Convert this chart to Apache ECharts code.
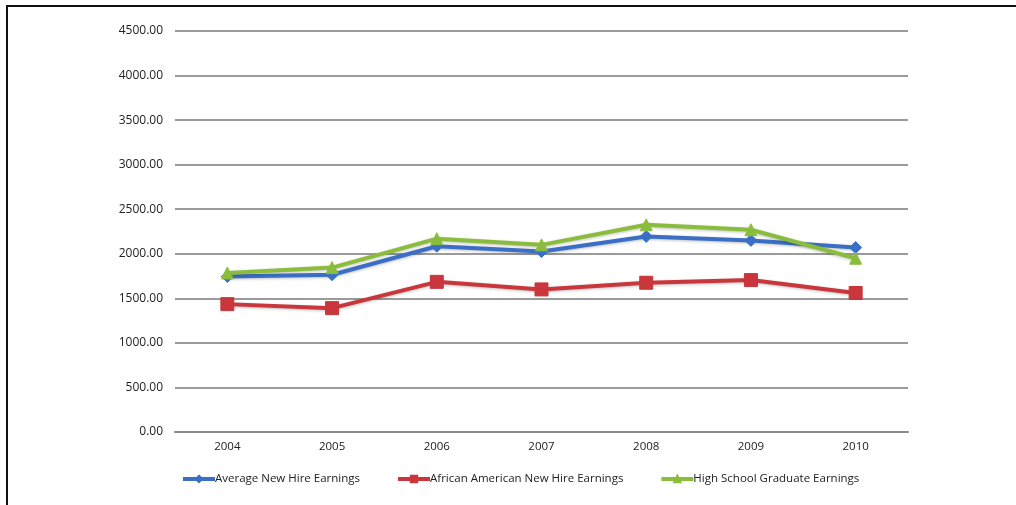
<!DOCTYPE html>
<html>
<head>
<meta charset="utf-8">
<script src="https://cdn.jsdelivr.net/npm/echarts@6/dist/echarts.min.js"></script>
<style>
  html, body { margin: 0; padding: 0; background: #fff; }
  #frame { position: absolute; left: 6px; top: 5px; width: 1010px; height: 500px;
           border-top: 2px solid #111; border-left: 2px solid #111; box-sizing: border-box; }
  #chart { position: absolute; left: 0; top: 0; width: 1016px; height: 505px; }
</style>
</head>
<body>
<div id="frame"></div>
<div id="chart"></div>
<script>
const years = ['2004', '2005', '2006', '2007', '2008', '2009', '2010'];
const averageNewHire = [1745, 1765, 2085, 2025, 2195, 2150, 2070];
const africanAmericanNewHire = [1435, 1390, 1685, 1600, 1675, 1705, 1560];
const highSchoolGraduate = [1785, 1845, 2170, 2100, 2325, 2270, 1950];
const seriesNames = ['Average New Hire Earnings', 'African American New Hire Earnings', 'High School Graduate Earnings'];

const chart = echarts.init(document.getElementById('chart'));

function lineSeries(name, data, color, symbol, size) {
  return {
    name: name,
    type: 'line',
    data: data,
    symbol: symbol,
    symbolSize: size,
    lineStyle: { color: color, width: 4, shadowColor: 'rgba(0,0,0,0.25)', shadowBlur: 3, shadowOffsetY: 1 },
    itemStyle: { color: color, borderColor: color, borderWidth: 1 },
    emphasis: { disabled: true },
    z: 3
  };
}

chart.setOption({
  animation: false,
  textStyle: { fontFamily: '"Open Sans", sans-serif' },
  grid: { left: 175, right: 108, top: 31, bottom: 73 },
  xAxis: {
    type: 'category',
    data: years,
    boundaryGap: true,
    axisLine: { lineStyle: { color: '#8a8a8a', width: 2 } },
    axisTick: { show: false },
    axisLabel: { color: '#222', fontSize: 11.5, margin: 9 }
  },
  yAxis: {
    type: 'value',
    min: 0,
    max: 4500,
    interval: 500,
    axisLine: { show: false },
    axisTick: { show: false },
    splitLine: { lineStyle: { color: '#9a9a9a', width: 2 } },
    axisLabel: { color: '#222', fontSize: 12, margin: 12, formatter: v => v.toFixed(2) }
  },
  legend: {
    top: 468,
    left: 176,
    itemGap: 36,
    itemWidth: 32,
    itemHeight: 8,
    lineStyle: { width: 4, shadowBlur: 0 },
    textStyle: { color: '#222', fontSize: 11.5, padding: [0, 0, 0, -5] },
    data: seriesNames
  },
  series: [
    lineSeries(seriesNames[0], averageNewHire, '#3b6fc6', 'diamond', 12),
    lineSeries(seriesNames[1], africanAmericanNewHire, '#c9363c', 'rect', 13),
    lineSeries(seriesNames[2], highSchoolGraduate, '#8bbd3c', 'triangle', 12)
  ]
});
</script>
</body>
</html>
